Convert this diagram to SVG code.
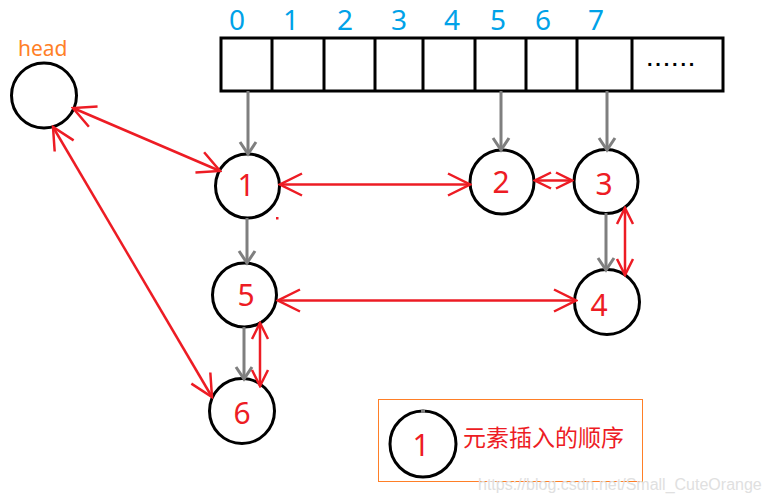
<svg xmlns="http://www.w3.org/2000/svg" width="768" height="504" viewBox="0 0 768 504">
<style>
.node{fill:none;stroke:#000;stroke-width:3}
.num{font-family:"Noto Sans","Liberation Sans",sans-serif;font-size:30px;fill:#ed1c24;text-anchor:middle}
.idx{font-family:"Noto Sans","Liberation Sans",sans-serif;font-size:28px;fill:#00a2e8;text-anchor:middle}
.cell{fill:#fff;stroke:#000;stroke-width:3}
.g{stroke:#7f7f7f;stroke-width:3;fill:none;marker-end:url(#ga)}
.r{stroke:#ed1c24;stroke-width:2.5;fill:none;marker-start:url(#ra);marker-end:url(#ra)}
.rs{stroke:#ed1c24;stroke-width:2.5;fill:none;marker-start:url(#rb);marker-end:url(#rb)}
</style>
<defs>
<marker id="ga" markerUnits="userSpaceOnUse" viewBox="-2 -2 18 20" markerWidth="18" markerHeight="20" refX="12" refY="8" orient="auto">
<path d="M0,0 L12,8 L0,16" fill="none" stroke="#7f7f7f" stroke-width="3"/>
</marker>
<marker id="ra" markerUnits="userSpaceOnUse" viewBox="-2 -2 26 26" markerWidth="26" markerHeight="26" refX="22" refY="11" orient="auto-start-reverse">
<path d="M0,0 L22,11 L0,22" fill="none" stroke="#ed1c24" stroke-width="2.5"/>
</marker>
<marker id="rb" markerUnits="userSpaceOnUse" viewBox="-2 -2 20 20" markerWidth="20" markerHeight="20" refX="16" refY="8" orient="auto-start-reverse">
<path d="M0,0 L16,8 L0,16" fill="none" stroke="#ed1c24" stroke-width="2.5"/>
</marker>
</defs>
<rect width="768" height="504" fill="#fff"/>
<g id="array">
<rect class="cell" x="221" y="38" width="502" height="53"/>
<path d="M272,38V91M324,38V91M375,38V91M423,38V91M475,38V91M526,38V91M577,38V91M632,38V91" stroke="#000" stroke-width="3"/>
<text x="647" y="66" font-family="Liberation Sans,sans-serif" font-weight="bold" font-size="20" letter-spacing="2.8" fill="#000">......</text>
<text class="idx" x="237" y="30">0</text>
<text class="idx" x="291" y="30">1</text>
<text class="idx" x="345" y="30">2</text>
<text class="idx" x="399" y="30">3</text>
<text class="idx" x="452" y="30">4</text>
<text class="idx" x="498" y="30">5</text>
<text class="idx" x="543" y="30">6</text>
<text class="idx" x="596" y="30">7</text>
</g>
<g id="head">
<circle class="node" cx="44" cy="95.5" r="32.5"/>
<text x="18" y="56" font-family="Noto Sans,Liberation Sans,sans-serif" font-size="21" fill="#ff7f27">head</text>
</g>
<g id="n1"><circle class="node" cx="247.5" cy="186" r="32"/><text class="num" x="246" y="196">1</text></g>
<g id="n2"><circle class="node" cx="502" cy="182" r="32"/><text class="num" x="501" y="193">2</text></g>
<g id="n3"><circle class="node" cx="606" cy="181.5" r="32"/><text class="num" x="604" y="195">3</text></g>
<g id="n4"><circle class="node" cx="607" cy="302" r="32.5"/><text class="num" x="599" y="316">4</text></g>
<g id="n5"><circle class="node" cx="244.5" cy="295" r="32"/><text class="num" x="246" y="306">5</text></g>
<g id="n6"><circle class="node" cx="242" cy="411" r="32.5"/><text class="num" x="242" y="424">6</text></g>
<g id="connectors">
<path class="g" d="M248,91V154"/>
<path class="g" d="M501,91V150"/>
<path class="g" d="M607,91V150"/>
<path class="g" d="M247,218V263"/>
<path class="g" d="M606,213V270"/>
<path class="g" d="M244,327V379"/>
<path class="r" d="M73,108L220,171"/>
<path class="r" d="M53,127L212,397"/>
<path class="r" d="M280,184.5H470"/>
<path class="rs" d="M535,180.5H572"/>
<path class="rs" d="M625,208V275"/>
<path class="r" d="M278,300.5H576"/>
<path class="rs" d="M260,323V386"/>
</g>
<rect x="276" y="217" width="2.5" height="2.5" fill="#ed1c24"/>
<g id="legend">
<rect x="378.5" y="399.5" width="264" height="82" fill="none" stroke="#ff7f27" stroke-width="1"/>
<circle class="node" cx="423" cy="444" r="33"/>
<rect x="421" y="410" width="4" height="3" fill="#7f7f7f"/>
<text class="num" x="421" y="456">1</text>
<text x="463" y="446" font-family="Noto Sans CJK SC,sans-serif" font-size="23" fill="#ed1c24">元素插入的顺序</text>
</g>
<text x="478" y="490" font-family="Liberation Sans,sans-serif" font-size="16" fill="#e0e0e0">https://blog.csdn.net/Small_CuteOrange</text>
</svg>
